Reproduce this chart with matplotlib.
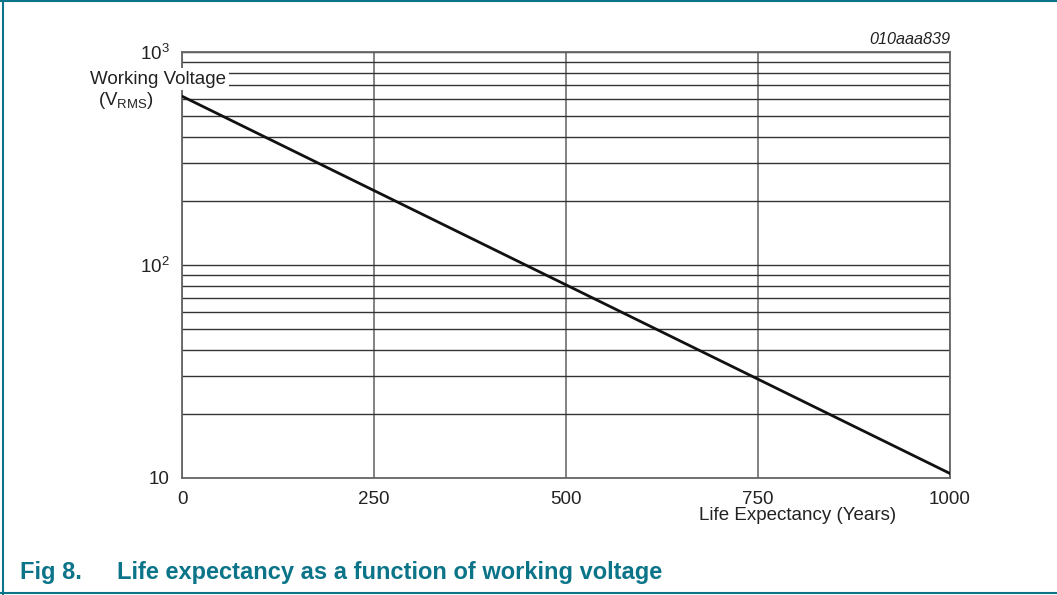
import matplotlib.pyplot as plt
from matplotlib.lines import Line2D

plt.rcParams['font.family'] = ['Liberation Sans', 'DejaVu Sans']
plt.rcParams['mathtext.fontset'] = 'custom'
plt.rcParams['mathtext.rm'] = 'Liberation Sans'
plt.rcParams['mathtext.it'] = 'Liberation Sans:italic'

# life expectancy (years) vs working voltage (V RMS)
life_years = [0, 1000]
voltage_rms = [620, 10.5]

x_ticks = [0, 250, 500, 750, 1000]
y_ticks = [10, 100, 1000]
y_tick_labels = ["10", "10$^2$", "10$^3$"]
minor_y = [20, 30, 40, 50, 60, 70, 80, 90, 200, 300, 400, 500, 600, 700, 800, 900]

teal = "#0b7489"
grid_col = "#333333"
fs = 13.5

fig = plt.figure(figsize=(10.57, 5.95), dpi=100)
ax = fig.add_axes([182 / 1057, 1 - 478 / 595, 768 / 1057, 426 / 595])

ax.set_yscale("log")
ax.set_xlim(0, 1000)
ax.set_ylim(10, 1000)

ax.set_xticks(x_ticks, labels=[str(t) for t in x_ticks])
ax.set_yticks(y_ticks, labels=y_tick_labels)
ax.set_yticks(minor_y, minor=True)
ax.yaxis.set_minor_formatter(plt.NullFormatter())
ax.tick_params(which="both", length=0, labelsize=fs, colors="#222222")
ax.tick_params(axis="x", pad=9)
ax.tick_params(axis="y", pad=9)

ax.grid(True, which="major", axis="x", color="#777777", lw=1.3)
ax.grid(True, which="both", axis="y", color=grid_col, lw=1.0)
for s in ax.spines.values():
    s.set_color("#666666")
    s.set_linewidth(1.3)

ax.plot(life_years, voltage_rms, color="#111111", lw=2.0, zorder=3)

# labels
fig.text(226 / 1057, 1 - 79 / 595, "Working Voltage", ha="right", va="center",
         fontsize=fs, color="#222222",
         bbox=dict(facecolor="white", edgecolor="none", pad=2))
fig.text(98 / 1057, 1 - 100 / 595, "(V$_{\\mathrm{RMS}}$)", ha="left", va="center",
         fontsize=fs, color="#222222")
fig.text(798 / 1057, 1 - 516 / 595, "Life Expectancy (Years)", ha="center", va="center",
         fontsize=fs, color="#222222")
fig.text(950 / 1057, 1 - 40 / 595, "010aaa839", ha="right", va="center",
         fontsize=11.7, style="italic", color="#222222")

# caption
fig.text(20 / 1057, 1 - 572 / 595, "Fig 8.", ha="left", va="center",
         fontsize=17, fontweight="bold", color=teal)
fig.text(117 / 1057, 1 - 572 / 595, "Life expectancy as a function of working voltage",
         ha="left", va="center", fontsize=17, fontweight="bold", color=teal)

# frame
fig.add_artist(Line2D([0, 1], [1 - 1 / 595, 1 - 1 / 595], color=teal, lw=1.5))
fig.add_artist(Line2D([3 / 1057, 3 / 1057], [0, 1], color=teal, lw=1.5))
fig.add_artist(Line2D([0, 1], [1 - 593 / 595, 1 - 593 / 595], color=teal, lw=1.5))

fig.savefig("out.png", dpi=100)
